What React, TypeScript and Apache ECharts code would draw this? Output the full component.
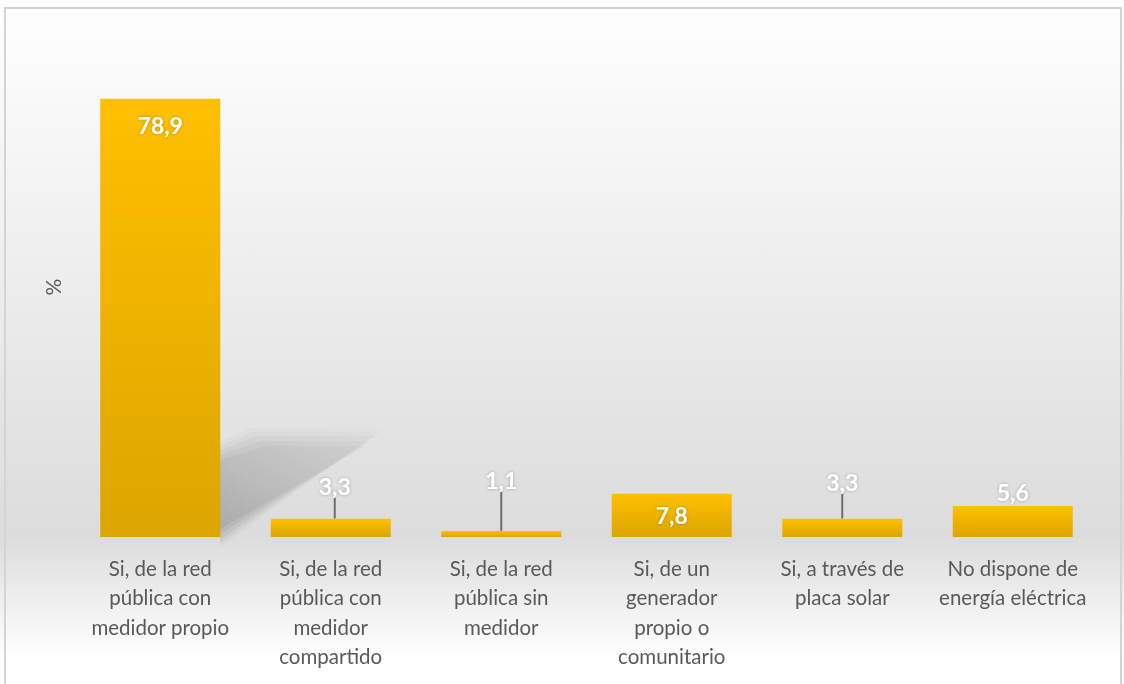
import React, { useEffect, useRef } from "react";
import * as echarts from "echarts";

const categories = [
  "Si, de la red\npública con\nmedidor propio",
  "Si, de la red\npública con\nmedidor\ncompartido",
  "Si, de la red\npública sin\nmedidor",
  "Si, de un\ngenerador\npropio o\ncomunitario",
  "Si, a través de\nplaca solar",
  "No dispone de\nenergía eléctrica",
];
const values = [78.9, 3.3, 1.1, 7.8, 3.3, 5.6];
const yAxisName = "%";

// label placement per bar: inside or moved above with leader line
const labelPlacement = ["insideTop", "top", "top", "inside", "top", "top"];
const labelShift = [
  { dx: 0, dy: 0 },
  { dx: 4, dy: -16 },
  { dx: 0, dy: -34 },
  { dx: 0, dy: 0 },
  { dx: 0, dy: -20 },
  { dx: 0, dy: 3 },
];
const hasLeader = [false, true, true, false, true, false];

const FONT = "Lato, 'Open Sans', sans-serif";

export default function App() {
  const ref = useRef<HTMLDivElement>(null);
  useEffect(() => {
    if (!ref.current) return;
    const chart = echarts.init(ref.current, undefined, { renderer: "svg" });
    const grad = () =>
      new echarts.graphic.LinearGradient(0, 0, 0, 1, [
        { offset: 0, color: "#ffc000" },
        { offset: 1, color: "#dca500" },
      ]);
    const data = values.map((v, i) => ({
      value: v,
      itemStyle: { color: grad() },
      label: {
        position: labelPlacement[i],
        distance: i === 0 ? 15 : 5,
      },
      labelLine: {
        show: hasLeader[i],
        lineStyle: { color: "#6e6e6e", width: 2 },
      },
    }));
    const shadowLayer = (grow: number, alpha: number) => ({
      type: "polygon",
      z: -5,
      silent: true,
      shape: {
        points: [
          [220, 452 - grow],
          [258 - grow, 438 - grow],
          [374 + grow, 438 - grow],
          [220, 537 + grow],
        ],
      },
      style: {
        fill: new echarts.graphic.LinearGradient(0, 1, 1, 0, [
          { offset: 0, color: `rgba(100,100,100,${alpha})` },
          { offset: 1, color: `rgba(150,150,150,${alpha * 0.5})` },
        ]),
      },
    });
    chart.setOption({
      animation: false,
      backgroundColor: "transparent",
      graphic: [
        {
          type: "rect",
          z: -10,
          silent: true,
          shape: { x: 0, y: 0, width: 1124, height: 684 },
          style: {
            fill: new echarts.graphic.LinearGradient(0, 0, 0, 1, [
              { offset: 0, color: "#ffffff" },
              { offset: 0.12, color: "#fafafa" },
              { offset: 0.785, color: "#dcdcdc" },
              { offset: 0.96, color: "#ffffff" },
              { offset: 1, color: "#ffffff" },
            ]),
          },
        },
        {
          type: "rect",
          z: -9,
          silent: true,
          shape: { x: 5, y: 8, width: 1116, height: 690 },
          style: { fill: "none", stroke: "#d4d4d4", lineWidth: 2 },
        },
        shadowLayer(10, 0.06),
        shadowLayer(6, 0.08),
        shadowLayer(2, 0.11),
        shadowLayer(-3, 0.13),
        shadowLayer(-8, 0.14),
      ],
      grid: { left: 75, right: 26, top: 37, bottom: 147 },
      xAxis: {
        type: "category",
        data: categories,
        axisLine: { show: false },
        axisTick: { show: false },
        axisLabel: {
          interval: 0,
          margin: 16,
          color: "#595959",
          fontSize: 20.5,
          lineHeight: 29.5,
          fontFamily: FONT,
          verticalAlign: "top",
        },
      },
      yAxis: {
        type: "value",
        min: 0,
        max: 90,
        name: yAxisName,
        nameLocation: "middle",
        nameRotate: 90,
        nameGap: 12,
        nameTextStyle: {
          color: "#595959",
          fontSize: 21,
          fontFamily: FONT,
        },
        axisLine: { show: false },
        axisTick: { show: false },
        axisLabel: { show: false },
        splitLine: { show: false },
      },
      series: [
        {
          type: "bar",
          data,
          barWidth: 120,
          label: {
            show: true,
            color: "#ffffff",
            fontSize: 23,
            fontWeight: "bold",
            fontFamily: FONT,
            textShadowColor: "rgba(0,0,0,0.3)",
            textShadowBlur: 3,
            formatter: (p: any) => String(p.value).replace(".", ","),
          },
          labelLayout: (p: any) => labelShift[p.dataIndex],
          labelLine: { show: false },
        },
      ],
    });
    return () => chart.dispose();
  }, []);
  return (
    <div
      ref={ref}
      style={{ position: "fixed", left: 0, top: 0, width: 1124, height: 684 }}
    />
  );
}
